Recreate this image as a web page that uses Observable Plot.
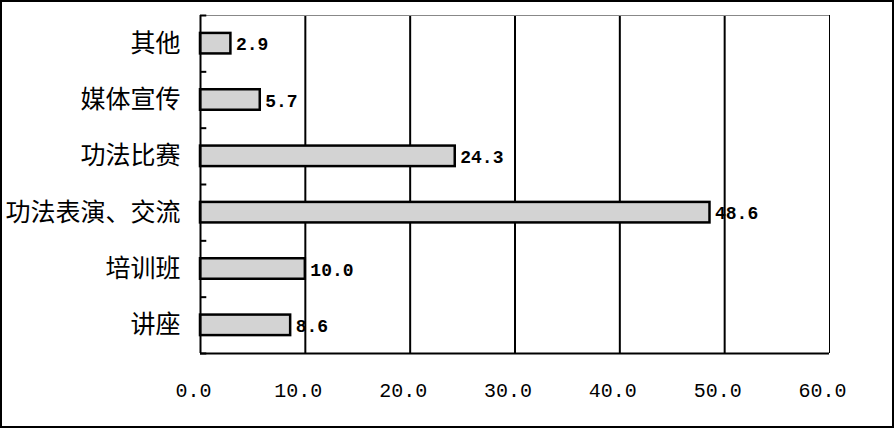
<!DOCTYPE html>
<html>
<head>
<meta charset="utf-8">
<script src="https://cdn.jsdelivr.net/npm/d3@7"></script>
<script src="https://cdn.jsdelivr.net/npm/@observablehq/plot@0.6"></script>
<style>
  html, body { margin: 0; padding: 0; background: #fff; }
  #frame { width: 894px; height: 428px; box-sizing: border-box; border: 2px solid #000; overflow: hidden; background: #fff; }
  #frame svg { display: block; }
</style>
</head>
<body>
<div id="frame"></div>
<script>
const categories = ["其他", "媒体宣传", "功法比赛", "功法表演、交流", "培训班", "讲座"];
const values = [2.9, 5.7, 24.3, 48.6, 10.0, 8.6];
const xTicks = [0, 10, 20, 30, 40, 50, 60];
const gridTicks = [10, 20, 30, 40, 50];

const data = categories.map((c, i) => ({category: c, index: i, value: values[i]}));
const boundaries = d3.range(categories.length + 1).map(i => i - 0.5);
const half = 0.182;

const chart = Plot.plot({
  width: 890,
  height: 424,
  marginLeft: 198,
  marginRight: 63,
  marginTop: 13,
  marginBottom: 73,
  x: {domain: [0, 60]},
  y: {domain: [-0.5, categories.length - 0.5], reverse: true},
  style: {background: "#fff", overflow: "visible"},
  marks: [
    Plot.ruleX(gridTicks, {stroke: "#000", strokeWidth: 2}),
    Plot.ruleX([60], {stroke: "#000", strokeWidth: 1}),
    Plot.ruleY([-0.5], {x1: 0, x2: 60, stroke: "#888", strokeWidth: 1}),
    Plot.rectX(data, {
      x1: 0, x2: "value",
      y1: d => d.index - half, y2: d => d.index + half,
      fill: "#d3d3d3", stroke: "#000", strokeWidth: 2.5
    }),
    Plot.ruleY(boundaries, {x1: 0, x2: 0.6, stroke: "#000", strokeWidth: 2}),
    Plot.ruleY([categories.length - 0.5], {x1: 0, x2: 60, stroke: "#000", strokeWidth: 2}),
    Plot.ruleX([0], {stroke: "#000", strokeWidth: 2}),
    Plot.text(data, {
      x: "value", y: "index",
      text: d => d3.format(".1f")(d.value),
      dx: 5, dy: 1, textAnchor: "start",
      fontFamily: "Liberation Mono, DejaVu Sans Mono, monospace",
      fontWeight: "bold", fontSize: 18, fill: "#000"
    }),
    Plot.axisY(d3.range(categories.length), {
      tickFormat: i => categories[i],
      tickSize: 0, tickPadding: 20,
      fontSize: 25, fontFamily: "Noto Sans CJK SC, sans-serif",
      color: "#000", label: null
    }),
    Plot.axisX(xTicks, {
      tickFormat: d3.format(".1f"),
      tickSize: 0, tickPadding: 29, dx: -7,
      fontSize: 20, fontFamily: "Liberation Mono, DejaVu Sans Mono, monospace",
      color: "#000", label: null
    })
  ]
});
document.getElementById("frame").appendChild(chart);
</script>
</body>
</html>
